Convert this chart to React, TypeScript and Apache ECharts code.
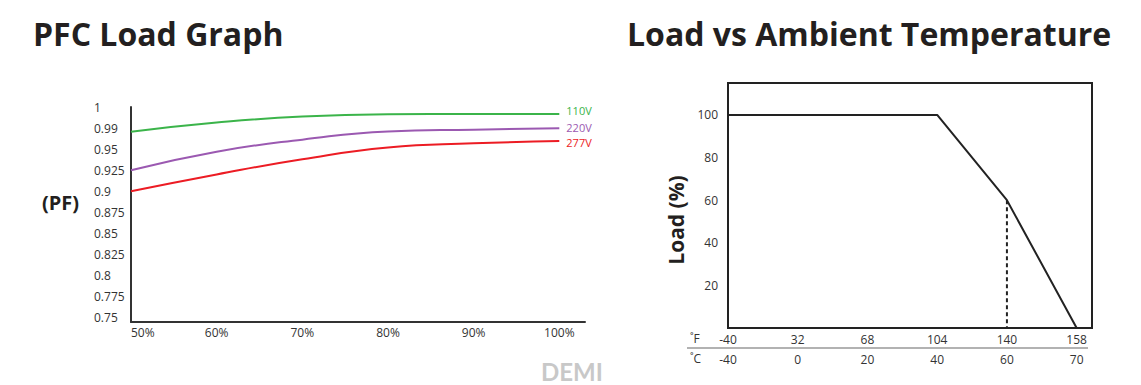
import React, { useEffect, useRef } from "react";
import * as echarts from "echarts";

// ---------- Left chart data (PFC Load Graph) ----------
const loadPct = [50, 60, 70, 80, 90, 100];
const pfTicks = [0.75, 0.775, 0.8, 0.825, 0.85, 0.875, 0.9, 0.925, 0.95, 0.99, 1];
const pf110 = [0.983, 0.9926, 0.9955, 0.9966, 0.9967, 0.9967];
const pf220 = [0.925, 0.947, 0.968, 0.9836, 0.987, 0.9896];
const pf277 = [0.9, 0.92, 0.938, 0.953, 0.961, 0.9655];
const voltages = ["110V", "220V", "277V"];

// ---------- Right chart data (Load vs Ambient Temperature) ----------
const tempF = ["-40", "32", "68", "104", "140", "158"];
const tempC = [-40, 0, 20, 40, 60, 70];
const loadTicks = [20, 40, 60, 80, 100];
const deratingTempC = [-40, 40, 60, 70];
const deratingLoad = [100, 100, 60, 0];
const markTempC = 60;

const FONT = '"Open Sans", sans-serif';

// The PF axis of the original is spaced by its tick labels: map a PF value onto it.
function pfToAxis(v: number): number {
  for (let i = 0; i < pfTicks.length - 1; i++) {
    if (v >= pfTicks[i] && v <= pfTicks[i + 1]) {
      return i + (v - pfTicks[i]) / (pfTicks[i + 1] - pfTicks[i]);
    }
  }
  return v < pfTicks[0] ? 0 : pfTicks.length - 1;
}
const tempIndex = (c: number) => tempC.indexOf(c);

export default function App() {
  const ref = useRef<HTMLDivElement>(null);
  useEffect(() => {
    if (!ref.current) return;
    const chart = echarts.init(ref.current, undefined, { renderer: "svg" });
    const pfSeries = [pf110, pf220, pf277];
    const colors = ["#3bb44a", "#9b59b1", "#ec1c24"];
    const labelOffsets = [[0, -3], [0, -1], [0, 1.5]];
    const axisLabelBase = { color: "#333", fontSize: 12, fontFamily: FONT };

    const option: any = {
      animation: false,
      textStyle: { fontFamily: FONT },
      grid: [
        { left: 131, top: 107, width: 454, height: 215, containLabel: false, outerBoundsMode: "none" },
        {
          left: 728, top: 83, width: 364, height: 245, containLabel: false, outerBoundsMode: "none",
          show: true, borderColor: "#222", borderWidth: 2, backgroundColor: "transparent",
        },
      ],
      xAxis: [
        {
          gridIndex: 0, type: "value", min: 50, max: 103,
          axisLine: { show: true, onZero: false, lineStyle: { color: "#333", width: 2 } },
          axisTick: { show: false }, splitLine: { show: false },
          axisLabel: {
            ...axisLabelBase, margin: 4, customValues: loadPct, alignMinLabel: "left",
            formatter: (v: number) => `${v}%`,
          },
        },
        {
          gridIndex: 1, type: "value", min: 0, max: 5.22, position: "bottom",
          axisLine: { show: false, onZero: false }, axisTick: { show: false }, splitLine: { show: false },
          axisLabel: {
            ...axisLabelBase, margin: 5, customValues: tempF.map((_, i) => i),
            formatter: (v: number) => tempF[Math.round(v)],
          },
        },
        {
          gridIndex: 1, type: "value", min: 0, max: 5.22, position: "bottom", offset: 20,
          axisLine: { show: false, onZero: false }, axisTick: { show: false }, splitLine: { show: false },
          axisLabel: {
            ...axisLabelBase, margin: 5, customValues: tempC.map((_, i) => i),
            formatter: (v: number) => String(tempC[Math.round(v)]),
          },
        },
      ],
      yAxis: [
        {
          gridIndex: 0, type: "value", min: -0.2, max: 10,
          axisLine: { show: true, onZero: false, lineStyle: { color: "#333", width: 2 } },
          axisTick: { show: false }, splitLine: { show: false },
          axisLabel: {
            ...axisLabelBase, align: "left", margin: 37, customValues: pfTicks.map((_, i) => i),
            formatter: (v: number) => String(pfTicks[Math.round(v)]),
          },
        },
        {
          gridIndex: 1, type: "value", min: 0, max: 115,
          axisLine: { show: false, onZero: false }, axisTick: { show: false }, splitLine: { show: false },
          axisLabel: { ...axisLabelBase, margin: 10, customValues: loadTicks },
        },
      ],
      series: [
        ...pfSeries.map((arr, s) => ({
          name: voltages[s], type: "line", xAxisIndex: 0, yAxisIndex: 0,
          data: loadPct.map((x, i) => [x, pfToAxis(arr[i])]),
          smooth: 0.5, symbol: "none", silent: true,
          lineStyle: { color: colors[s], width: 2 },
          endLabel: {
            show: true, formatter: "{a}", color: colors[s], fontSize: 11, lineHeight: 11,
            fontFamily: FONT, distance: 7, offset: labelOffsets[s],
          },
        })),
        {
          name: "Load", type: "line", xAxisIndex: 1, yAxisIndex: 1,
          data: deratingTempC.map((c, i) => [tempIndex(c), deratingLoad[i]]),
          symbol: "none", silent: true, lineStyle: { color: "#222", width: 2 },
        },
        {
          name: "Mark", type: "line", xAxisIndex: 1, yAxisIndex: 1,
          data: [
            [tempIndex(markTempC), deratingLoad[deratingTempC.indexOf(markTempC)]],
            [tempIndex(markTempC), 0],
          ],
          symbol: "none", silent: true, lineStyle: { color: "#222", width: 2, type: [4, 3] },
        },
      ],
      graphic: [
        { type: "text", x: 33, y: 33, style: { text: "PFC Load Graph", fill: "#231f20", font: `bold 32px ${FONT}`, align: "left", verticalAlign: "middle" } },
        { type: "text", x: 627, y: 33, style: { text: "Load vs Ambient Temperature", fill: "#231f20", font: `bold 32px ${FONT}`, align: "left", verticalAlign: "middle" } },
        { type: "text", x: 42, y: 202, style: { text: "(PF)", fill: "#231f20", font: `bold 20px ${FONT}`, align: "left", verticalAlign: "middle" } },
        { type: "text", x: 676, y: 220, rotation: Math.PI / 2, style: { text: "Load (%)", fill: "#231f20", font: `bold 21px ${FONT}`, align: "center", verticalAlign: "middle" } },
        { type: "text", x: 690, y: 338, style: { text: "˚F", fill: "#333", font: `12px ${FONT}`, align: "left", verticalAlign: "middle" } },
        { type: "text", x: 690, y: 358, style: { text: "˚C", fill: "#333", font: `12px ${FONT}`, align: "left", verticalAlign: "middle" } },
        { type: "line", shape: { x1: 687, y1: 348, x2: 1088, y2: 348 }, style: { stroke: "#999", lineWidth: 1.5 } },
        { type: "text", x: 541, y: 371, style: { text: "DEMI", fill: "#c8c8c8", font: `bold 24px Lato, ${FONT}`, lineHeight: 24, align: "left", verticalAlign: "middle" } },
      ],
    };
    chart.setOption(option);
    return () => chart.dispose();
  }, []);
  return (
    <div
      ref={ref}
      style={{ position: "fixed", left: 0, top: 0, width: 1141, height: 385, background: "#fff" }}
    />
  );
}
